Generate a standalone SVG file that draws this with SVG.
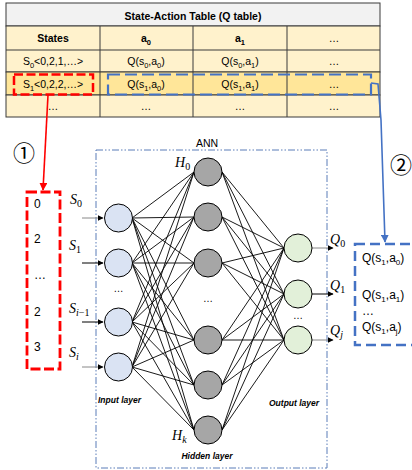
<svg xmlns="http://www.w3.org/2000/svg" width="412" height="470" viewBox="0 0 412 470">
  <style>
    .cell { stroke: #3a3a3a; stroke-width: 1; }
    .tt { font-family: "Liberation Sans", Arial, sans-serif; font-size: 10.5px; fill: #000; text-anchor: middle; }
    .tb { font-weight: bold; }
    .num { font-family: "Liberation Sans", Arial, sans-serif; font-size: 12px; fill: #000; }
    .math { font-family: "Liberation Serif", "Times New Roman", serif; font-size: 14px; font-style: italic; fill: #000; }
    .up { font-style: normal; }
    .layer { font-family: "Liberation Sans", Arial, sans-serif; font-size: 8.5px; font-weight: bold; font-style: italic; fill: #000; }
    .dots { font-family: "Liberation Sans", Arial, sans-serif; font-size: 10px; fill: #000; text-anchor: middle; }
    .edge { stroke: #000; stroke-width: 0.9; fill: none; }
    .in { fill: #DAE3F3; stroke: #000; stroke-width: 1; }
    .hid { fill: #A6A6A6; stroke: #000; stroke-width: 1; }
    .out { fill: #E2F0D9; stroke: #000; stroke-width: 1; }
    .circ { font-family: "Noto Sans CJK JP", "DejaVu Sans", sans-serif; font-size: 22px; fill: #000; text-anchor: middle; }
  </style>
  <defs>
    <marker id="ahBlack" viewBox="0 0 10 10" refX="9" refY="5" markerWidth="6" markerHeight="6" orient="auto" markerUnits="userSpaceOnUse">
      <path d="M0,0 L10,5 L0,10 z" fill="#000"/>
    </marker>
    <marker id="ahRed" viewBox="0 0 10 10" refX="9" refY="5" markerWidth="8" markerHeight="8" orient="auto" markerUnits="userSpaceOnUse">
      <path d="M0,0 L10,5 L0,10 z" fill="#FF0000"/>
    </marker>
    <marker id="ahBlue" viewBox="0 0 10 10" refX="9" refY="5" markerWidth="8" markerHeight="8" orient="auto" markerUnits="userSpaceOnUse">
      <path d="M0,0 L10,5 L0,10 z" fill="#4472C4"/>
    </marker>
  </defs>

  <!-- Q table -->
  <g id="qtable">
    <rect x="6" y="3" width="374" height="23" fill="#F2F2F2" class="cell"/>
    <rect x="6" y="26" width="374" height="46" fill="#FFF2CC" class="cell"/>
    <rect x="6" y="72" width="374" height="23" fill="#FFE699" class="cell"/>
    <rect x="6" y="95" width="374" height="22" fill="#FFF2CC" class="cell"/>
    <line x1="6" y1="50" x2="380" y2="50" class="cell"/>
    <line x1="100" y1="26" x2="100" y2="117" class="cell"/>
    <line x1="193" y1="26" x2="193" y2="117" class="cell"/>
    <line x1="287" y1="26" x2="287" y2="117" class="cell"/>

    <text x="193" y="19.5" class="tt tb" font-size="12.5">State-Action Table (Q table)</text>

    <text x="53" y="42" class="tt tb" font-size="11.5">States</text>
    <text x="146" y="42" class="tt tb" font-size="11.5">a<tspan font-size="7.5" dy="2.5">0</tspan></text>
    <text x="240" y="42" class="tt tb" font-size="11.5">a<tspan font-size="7.5" dy="2.5">1</tspan></text>
    <text x="334" y="42" class="tt">…</text>

    <text x="53" y="65" class="tt">S<tspan font-size="7.5" dy="2.5">0</tspan><tspan dy="-2.5">&lt;0,2,1,…&gt;</tspan></text>
    <text x="146" y="65" class="tt">Q(s<tspan font-size="7.5" dy="2.5">0</tspan><tspan dy="-2.5">,a</tspan><tspan font-size="7.5" dy="2.5">0</tspan><tspan dy="-2.5">)</tspan></text>
    <text x="240" y="65" class="tt">Q(s<tspan font-size="7.5" dy="2.5">0</tspan><tspan dy="-2.5">,a</tspan><tspan font-size="7.5" dy="2.5">1</tspan><tspan dy="-2.5">)</tspan></text>
    <text x="334" y="65" class="tt">…</text>

    <text x="53" y="88" class="tt">S<tspan font-size="7.5" dy="2.5">1</tspan><tspan dy="-2.5">&lt;0,2,2,…&gt;</tspan></text>
    <text x="146" y="88" class="tt">Q(s<tspan font-size="7.5" dy="2.5">1</tspan><tspan dy="-2.5">,a</tspan><tspan font-size="7.5" dy="2.5">0</tspan><tspan dy="-2.5">)</tspan></text>
    <text x="240" y="88" class="tt">Q(s<tspan font-size="7.5" dy="2.5">1</tspan><tspan dy="-2.5">,a</tspan><tspan font-size="7.5" dy="2.5">1</tspan><tspan dy="-2.5">)</tspan></text>
    <text x="334" y="88" class="tt">…</text>

    <text x="53" y="110" class="tt">…</text>
    <text x="146" y="110" class="tt">…</text>
    <text x="240" y="110" class="tt">…</text>
    <text x="334" y="110" class="tt">…</text>

    <!-- selected state / selected Q values -->
    <rect x="14" y="74.5" width="79" height="20" fill="none" stroke="#FF0000" stroke-width="2.5" stroke-dasharray="9 3.5"/>
    <rect x="108" y="74.5" width="263" height="20" fill="none" stroke="#4472C4" stroke-width="2.2" stroke-dasharray="12 5"/>
  </g>

  <!-- step markers -->
  <g id="step1"><text x="24" y="161" class="circ">①</text></g>
  <g id="step2"><text x="401" y="173" class="circ">②</text></g>

  <!-- state vector -->
  <g id="stateVector">
    <rect x="27" y="192" width="33" height="177" fill="none" stroke="#FF0000" stroke-width="2.8" stroke-dasharray="10 3.5"/>
    <text x="34" y="208" class="num">0</text>
    <text x="34" y="243" class="num">2</text>
    <text x="34" y="279" class="num">…</text>
    <text x="34" y="316" class="num">2</text>
    <text x="34" y="351" class="num">3</text>
  </g>

  <!-- Q value vector -->
  <g id="qVector">
    <rect x="355" y="244" width="80" height="101" fill="none" stroke="#4472C4" stroke-width="2.5" stroke-dasharray="10 5"/>
    <text x="362" y="262" class="num" font-size="11.5">Q(s<tspan font-size="8" dy="2.5">1</tspan><tspan dy="-2.5">,a</tspan><tspan font-size="8" dy="2.5">0</tspan><tspan dy="-2.5">)</tspan></text>
    <text x="362" y="299" class="num" font-size="11.5">Q(s<tspan font-size="8" dy="2.5">1</tspan><tspan dy="-2.5">,a</tspan><tspan font-size="8" dy="2.5">1</tspan><tspan dy="-2.5">)</tspan></text>
    <text x="362" y="315" class="num" font-size="10">…</text>
    <text x="362" y="331" class="num" font-size="11.5">Q(s<tspan font-size="8" dy="2.5">1</tspan><tspan dy="-2.5">,a</tspan><tspan font-size="8" dy="2.5">j</tspan><tspan dy="-2.5">)</tspan></text>
  </g>

  <!-- ANN frame -->
  <g id="ann">
    <rect x="96" y="150" width="231" height="318" fill="none" stroke="#5B7DB8" stroke-width="1" stroke-dasharray="7 2 1.5 2 1.5 2"/>
    <text x="207" y="147" class="tt" font-size="12.5" fill="#222">ANN</text>
    <text x="98" y="403" class="layer">Input layer</text>
    <text x="207" y="459" class="layer" text-anchor="middle">Hidden layer</text>
    <text x="269" y="406" class="layer">Output layer</text>
  </g>

  <!-- connectors -->
  <g id="connectors">
    <!-- input -> hidden -->
    <g class="edge">
      <path d="M132,218 L194,172 M132,218 L194,217 M132,218 L194,263 M132,218 L194,340 M132,218 L194,385 M132,218 L194,430"/>
      <path d="M132,263 L194,172 M132,263 L194,217 M132,263 L194,263 M132,263 L194,340 M132,263 L194,385 M132,263 L194,430"/>
      <path d="M132,322 L194,172 M132,322 L194,217 M132,322 L194,263 M132,322 L194,340 M132,322 L194,385 M132,322 L194,430"/>
      <path d="M132,367 L194,172 M132,367 L194,217 M132,367 L194,263 M132,367 L194,340 M132,367 L194,385 M132,367 L194,430"/>
    </g>
    <!-- hidden -> output -->
    <g class="edge">
      <path d="M222,172 L284,248 M222,172 L284,294 M222,172 L284,340"/>
      <path d="M222,217 L284,248 M222,217 L284,294 M222,217 L284,340"/>
      <path d="M222,263 L284,248 M222,263 L284,294 M222,263 L284,340"/>
      <path d="M222,340 L284,248 M222,340 L284,294 M222,340 L284,340"/>
      <path d="M222,385 L284,248 M222,385 L284,294 M222,385 L284,340"/>
      <path d="M222,430 L284,248 M222,430 L284,294 M222,430 L284,340"/>
    </g>
    <!-- inputs in -->
    <line x1="82" y1="218" x2="103" y2="218" stroke="#888" stroke-width="1" marker-end="url(#ahBlack)"/>
    <line x1="82" y1="263" x2="103" y2="263" stroke="#000" stroke-width="1" marker-end="url(#ahBlack)"/>
    <line x1="82" y1="322" x2="103" y2="322" stroke="#000" stroke-width="1" marker-end="url(#ahBlack)"/>
    <line x1="82" y1="367" x2="103" y2="367" stroke="#888" stroke-width="1" marker-end="url(#ahBlack)"/>
    <!-- outputs out -->
    <line x1="312" y1="248" x2="333" y2="248" stroke="#888" stroke-width="1" marker-end="url(#ahBlack)"/>
    <line x1="312" y1="294" x2="333" y2="294" stroke="#000" stroke-width="1" marker-end="url(#ahBlack)"/>
    <line x1="312" y1="340" x2="333" y2="340" stroke="#888" stroke-width="1" marker-end="url(#ahBlack)"/>
    <!-- table -> ANN input / ANN output -> table -->
    <path d="M48,95 L43,190" fill="none" stroke="#FF0000" stroke-width="1.6" marker-end="url(#ahRed)"/>
    <path d="M371,83 L378,84 L381,120 L385,242" fill="none" stroke="#4472C4" stroke-width="1.6" marker-end="url(#ahBlue)"/>
  </g>

  <!-- input layer -->
  <g id="inputLayer">
    <circle cx="118.5" cy="218" r="14" class="in"/>
    <circle cx="118.5" cy="263" r="14" class="in"/>
    <circle cx="118.5" cy="322" r="14" class="in"/>
    <circle cx="118.5" cy="367" r="14" class="in"/>
    <text x="118.5" y="292" class="dots">…</text>
    <text x="70" y="204" class="math">S<tspan class="up" font-size="10" dy="3">0</tspan></text>
    <text x="69" y="250" class="math">S<tspan class="up" font-size="10" dy="3">1</tspan></text>
    <text x="69" y="313" class="math">S<tspan font-size="10" dy="3">i</tspan><tspan class="up" font-size="10">−1</tspan></text>
    <text x="69" y="357" class="math">S<tspan font-size="10" dy="3">i</tspan></text>
  </g>

  <!-- hidden layer -->
  <g id="hiddenLayer">
    <circle cx="208" cy="172" r="14" class="hid"/>
    <circle cx="208" cy="217" r="14" class="hid"/>
    <circle cx="208" cy="263" r="14" class="hid"/>
    <circle cx="208" cy="340" r="14" class="hid"/>
    <circle cx="208" cy="385" r="14" class="hid"/>
    <circle cx="208" cy="430" r="14" class="hid"/>
    <text x="208" y="302" class="dots">…</text>
    <text x="175" y="167" class="math">H<tspan class="up" font-size="10" dy="3">0</tspan></text>
    <text x="172" y="440" class="math">H<tspan font-size="10" dy="3">k</tspan></text>
  </g>

  <!-- output layer -->
  <g id="outputLayer">
    <circle cx="298" cy="248" r="14" class="out"/>
    <circle cx="298" cy="294" r="14" class="out"/>
    <circle cx="298" cy="340" r="14" class="out"/>
    <text x="298" y="319" class="dots">…</text>
    <text x="330" y="244" class="math">Q<tspan class="up" font-size="10" dy="3">0</tspan></text>
    <text x="330" y="290" class="math">Q<tspan class="up" font-size="10" dy="3">1</tspan></text>
    <text x="330" y="335" class="math">Q<tspan font-size="10" dy="3">j</tspan></text>
  </g>
</svg>
